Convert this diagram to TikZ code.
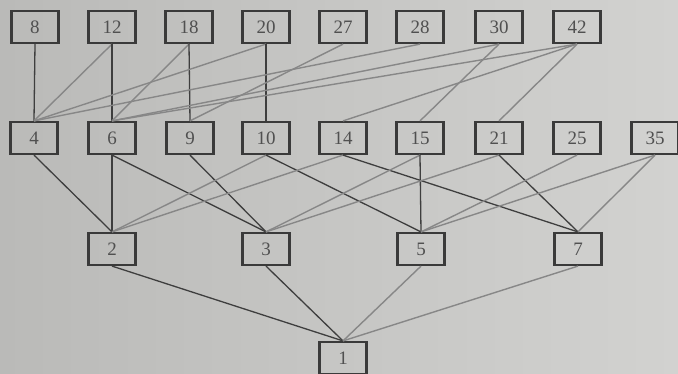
\documentclass[tikz,border=0pt]{standalone}
\usepackage{fontspec}
\setmainfont{Liberation Serif}
\definecolor{bgl}{RGB}{186,186,184}
\definecolor{bgr}{RGB}{210,210,208}
\definecolor{boxc}{RGB}{58,58,58}
\definecolor{txtc}{RGB}{80,80,80}
\definecolor{dk}{RGB}{62,62,62}
\definecolor{lt}{RGB}{135,135,135}
\tikzset{
  numbox/.style={draw=boxc, line width=2.2pt, minimum width=47pt, minimum height=32pt,
    inner sep=0pt, text=txtc, font=\fontsize{19}{22}\selectfont},
  dkedge/.style={draw=dk, line width=1.3pt},
  ltedge/.style={draw=lt, line width=1.4pt},
}
\begin{document}
\begin{tikzpicture}[x=1pt,y=-1pt]
\useasboundingbox (0,0) rectangle (678,374);
\shade[left color=bgl, right color=bgr] (0,0) rectangle (678,374);
% top row
\node[numbox] (n8)  at (35,27)  {8};
\node[numbox] (n12) at (112,27) {12};
\node[numbox] (n18) at (189,27) {18};
\node[numbox] (n20) at (266,27) {20};
\node[numbox] (n27) at (343,27) {27};
\node[numbox] (n28) at (420,27) {28};
\node[numbox] (n30) at (499,27) {30};
\node[numbox] (n42) at (577,27) {42};
% middle row
\node[numbox] (n4)  at (34,138)  {4};
\node[numbox] (n6)  at (112,138) {6};
\node[numbox] (n9)  at (190,138) {9};
\node[numbox] (n10) at (266,138) {10};
\node[numbox] (n14) at (343,138) {14};
\node[numbox] (n15) at (420,138) {15};
\node[numbox] (n21) at (499,138) {21};
\node[numbox] (n25) at (577,138) {25};
\node[numbox] (n35) at (655,138) {35};
% bottom row
\node[numbox] (n2) at (112,249) {2};
\node[numbox] (n3) at (266,249) {3};
\node[numbox] (n5) at (421,249) {5};
\node[numbox] (n7) at (578,249) {7};
\node[numbox] (n1) at (343,358) {1};
% top to middle
\draw[dkedge] (n8.south) -- (n4.north);
\draw[ltedge] (n12.south) -- (n4.north);
\draw[dkedge] (n12.south) -- (n6.north);
\draw[ltedge] (n18.south) -- (n6.north);
\draw[dkedge] (n18.south) -- (n9.north);
\draw[ltedge] (n20.south) -- (n4.north);
\draw[dkedge] (n20.south) -- (n10.north);
\draw[ltedge] (n27.south) -- (n9.north);
\draw[ltedge] (n28.south) -- (n4.north);
\draw[ltedge] (n30.south) -- (n6.north);
\draw[ltedge] (n30.south) -- (n15.north);
\draw[ltedge] (n42.south) -- (n6.north);
\draw[ltedge] (n42.south) -- (n14.north);
\draw[ltedge] (n42.south) -- (n21.north);
% middle to bottom
\draw[dkedge] (n4.south) -- (n2.north);
\draw[dkedge] (n6.south) -- (n2.north);
\draw[dkedge] (n6.south) -- (n3.north);
\draw[dkedge] (n9.south) -- (n3.north);
\draw[ltedge] (n10.south) -- (n2.north);
\draw[dkedge] (n10.south) -- (n5.north);
\draw[ltedge] (n14.south) -- (n2.north);
\draw[dkedge] (n14.south) -- (n7.north);
\draw[ltedge] (n15.south) -- (n3.north);
\draw[dkedge] (n15.south) -- (n5.north);
\draw[ltedge] (n21.south) -- (n3.north);
\draw[dkedge] (n21.south) -- (n7.north);
\draw[ltedge] (n25.south) -- (n5.north);
\draw[ltedge] (n35.south) -- (n5.north);
\draw[ltedge] (n35.south) -- (n7.north);
% bottom to root
\draw[dkedge] (n2.south) -- (n1.north);
\draw[dkedge] (n3.south) -- (n1.north);
\draw[ltedge] (n5.south) -- (n1.north);
\draw[ltedge] (n7.south) -- (n1.north);
\end{tikzpicture}
\end{document}
